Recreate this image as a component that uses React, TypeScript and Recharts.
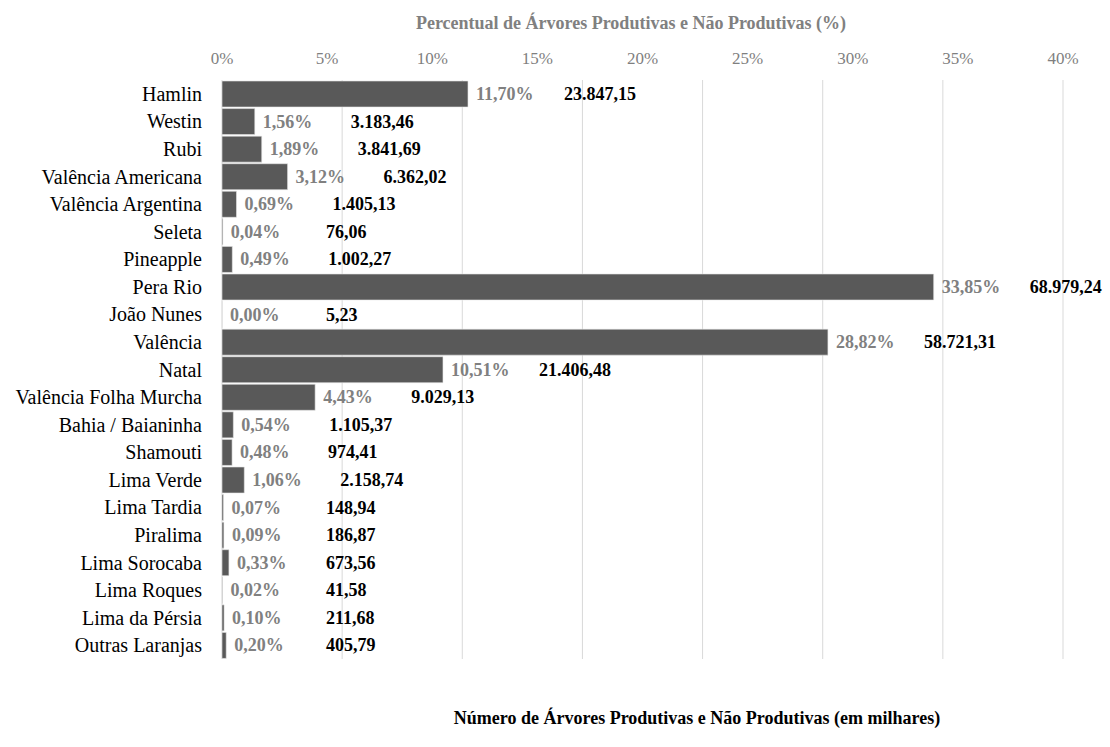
import { BarChart, Bar, XAxis, YAxis, CartesianGrid, LabelList } from 'recharts';

const variedades = [
  'Hamlin',
  'Westin',
  'Rubi',
  'Valência Americana',
  'Valência Argentina',
  'Seleta',
  'Pineapple',
  'Pera Rio',
  'João Nunes',
  'Valência ',
  'Natal',
  'Valência Folha Murcha',
  'Bahia / Baianinha',
  'Shamouti',
  'Lima Verde',
  'Lima Tardia',
  'Piralima',
  'Lima Sorocaba',
  'Lima Roques',
  'Lima da Pérsia',
  'Outras Laranjas',
];

// percentual de árvores (%) - João Nunes is ~0,003% (shown as 0,00%)
const percentuais = [
  11.7, 1.56, 1.89, 3.12, 0.69, 0.04, 0.49, 33.85, 0.003, 28.82, 10.51, 4.43, 0.54, 0.48, 1.06, 0.07,
  0.09, 0.33, 0.02, 0.1, 0.2,
];

// número de árvores (em milhares)
const numeros = [
  23847.15, 3183.46, 3841.69, 6362.02, 1405.13, 76.06, 1002.27, 68979.24, 5.23, 58721.31, 21406.48,
  9029.13, 1105.37, 974.41, 2158.74, 148.94, 186.87, 673.56, 41.58, 211.68, 405.79,
];

const pctTicks = [0, 5, 10, 15, 20, 25, 30, 35, 40];
const numTicks = [0, 10000, 20000, 30000, 40000, 50000, 60000, 70000];
const NUM_MAX = 70000;

const data = variedades.map((nome, i) => ({ nome, pct: percentuais[i], num: numeros[i] }));

const FONT = '"Liberation Serif", "Times New Roman", serif';

const fmtPct = (v: number) => `${v.toFixed(2).replace('.', ',')}%`;

const fmtNum = (v: number) => {
  const [int, dec] = v.toFixed(2).split('.');
  return `${int.replace(/\B(?=(\d{3})+(?!\d))/g, '.')},${dec}`;
};

// grid follows the (hidden) secondary axis, número de árvores
const gridX = ({ xAxis, offset }: any) => {
  if (xAxis && typeof xAxis.scale === 'function' && xAxis.domain?.[1] === NUM_MAX) {
    return numTicks.map((t) => xAxis.scale(t));
  }
  return numTicks.map((t) => offset.left + (offset.width * t) / NUM_MAX);
};

const PctLabel = (props: any) => {
  const { x, y, width, height, value } = props;
  const end = Number(x) + Number(width);
  return (
    <text
      x={Math.max(end + 8, 230)}
      y={Number(y) + Number(height) / 2}
      dy={6}
      fill="#808080"
      fontFamily={FONT}
      fontSize={18}
      fontWeight="bold"
    >
      {fmtPct(Number(value))}
    </text>
  );
};

const NumLabel = (props: any) => {
  const { x, y, width, height, value } = props;
  const end = Number(x) + Number(width);
  return (
    <text
      x={Math.max(end + 96, 326)}
      y={Number(y) + Number(height) / 2}
      dy={6}
      fill="#000"
      fontFamily={FONT}
      fontSize={18}
      fontWeight="bold"
    >
      {fmtNum(Number(value))}
    </text>
  );
};

export default function App() {
  return (
    <div style={{ position: 'absolute', left: 0, top: 0, width: 1110, height: 747, background: '#fff' }}>
      <BarChart
        width={1110}
        height={747}
        data={data}
        layout="vertical"
        margin={{ top: 50, right: 47, bottom: 88, left: 0 }}
        barCategoryGap={1}
      >
        <CartesianGrid
          xAxisId="num"
          horizontal={false}
          stroke="#d9d9d9"
          verticalCoordinatesGenerator={gridX}
        />
        <XAxis
          xAxisId="pct"
          type="number"
          orientation="top"
          height={30}
          domain={[0, 40]}
          ticks={pctTicks}
          tickFormatter={(v) => `${v}%`}
          axisLine={false}
          tickLine={false}
          tick={{ fill: '#7f7f7f', fontFamily: FONT, fontSize: 17 }}
          tickMargin={10}
          interval={0}
        />
        <XAxis
          xAxisId="num"
          type="number"
          orientation="bottom"
          height={0}
          domain={[0, NUM_MAX]}
          ticks={numTicks}
          interval={0}
          tick={false}
          axisLine={false}
          tickLine={false}
        />
        <YAxis
          type="category"
          dataKey="nome"
          width={222}
          axisLine={false}
          tickLine={false}
          tickMargin={14}
          interval={0}
          tick={{ fill: '#000', fontFamily: FONT, fontSize: 20 }}
        />
        <Bar xAxisId="pct" dataKey="pct" fill="#595959" stroke="#e6e6e6" strokeWidth={0.6} isAnimationActive={false}>
          <LabelList dataKey="pct" content={PctLabel} />
          <LabelList dataKey="num" content={NumLabel} />
        </Bar>
        <text x={631} y={29} textAnchor="middle" fill="#808080" fontFamily={FONT} fontSize={18} fontWeight="bold">
          Percentual de Árvores Produtivas e Não Produtivas (%)
        </text>
        <text x={697} y={724} textAnchor="middle" fill="#000" fontFamily={FONT} fontSize={18} fontWeight="bold">
          Número de Árvores Produtivas e Não Produtivas (em milhares)
        </text>
      </BarChart>
    </div>
  );
}
